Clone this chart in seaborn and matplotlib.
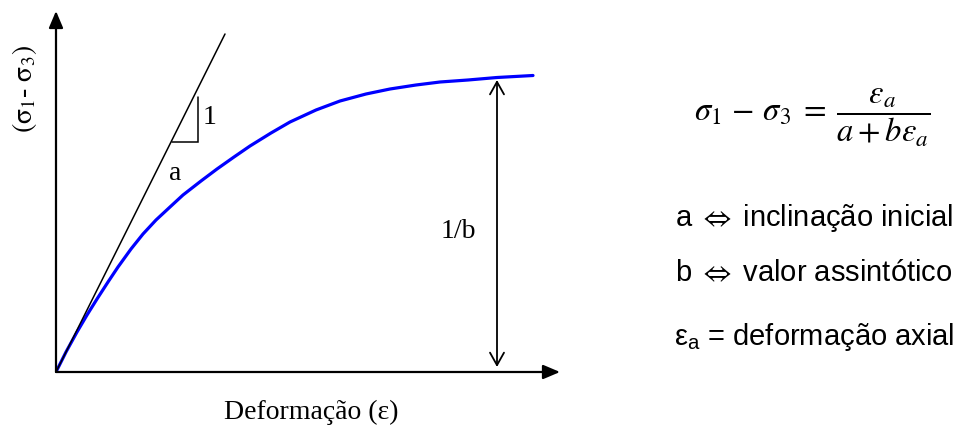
import matplotlib
matplotlib.use("Agg")
import matplotlib.pyplot as plt
import seaborn as sns
import pandas as pd

# Hyperbolic stress-strain curve (Kondner), arbitrary units
strain = [0, 0.10, 0.21, 0.31, 0.41, 0.52, 0.62, 0.75, 0.87, 1.00, 1.14, 1.27,
          1.45, 1.61, 1.78, 1.94, 2.15, 2.34, 2.60, 2.84, 3.10, 3.34, 3.60,
          3.84, 4.12, 4.41, 4.77]
deviator = [0, 0.20, 0.40, 0.57, 0.73, 0.90, 1.05, 1.23, 1.38, 1.52, 1.65,
            1.77, 1.91, 2.03, 2.15, 2.26, 2.39, 2.50, 2.62, 2.71, 2.78, 2.83,
            2.87, 2.90, 2.92, 2.945, 2.965]

# Initial tangent (slope 1/a)
tangent_x = [0, 1.69]
tangent_y = [0, 3.38]

# Slope triangle on the tangent
tri_x = [1.16, 1.42, 1.42]
tri_y = [2.30, 2.30, 2.75]

# Asymptote marker (1/b)
asym_x = 4.41
asym_y = [0.05, 2.92]

xmax, ymax = 5.04, 3.61

W, H = 954, 427

sns.set_theme(style="white")
plt.rcParams["font.family"] = ["Liberation Serif", "DejaVu Serif"]
plt.rcParams["mathtext.fontset"] = "stix"
plt.rcParams["text.color"] = "black"

fig = plt.figure(figsize=(W / 100, H / 100), dpi=100)
x0, y0 = 56, 373
ax = fig.add_axes([x0 / W, (H - y0) / H, (xmax * 100) / W, (ymax * 100) / H])
ax.set_xlim(0, xmax)
ax.set_ylim(0, ymax)
ax.axis("off")

curve = pd.DataFrame({"strain": strain, "deviator": deviator})
sns.lineplot(data=curve, x="strain", y="deviator", color="#0000ff", lw=2.3,
             ax=ax, sort=False, estimator=None)
sns.lineplot(x=tangent_x, y=tangent_y, color="black", lw=1.1, ax=ax,
             sort=False, estimator=None)
ax.plot(tri_x, tri_y, color="black", lw=1.1, solid_joinstyle="miter")

# Axes with arrowheads
axis_arrow = dict(arrowstyle="-|>,head_length=0.85,head_width=0.36", lw=1.6,
                  color="black", shrinkA=0, shrinkB=0)
ax.annotate("", xy=(0, ymax), xytext=(0, 0), arrowprops=axis_arrow,
            annotation_clip=False)
ax.annotate("", xy=(xmax, 0), xytext=(0, 0), arrowprops=axis_arrow,
            annotation_clip=False)

# Double arrow for 1/b
ax.annotate("", xy=(asym_x, asym_y[1]), xytext=(asym_x, asym_y[0]),
            arrowprops=dict(arrowstyle="<->,head_length=0.75,head_width=0.42",
                            lw=1.3, color="black", shrinkA=0, shrinkB=0),
            annotation_clip=False)


def px(x, y):
    return x / W, 1 - y / H


serif = 20
fig.text(*px(210, 118), "1", fontsize=serif, ha="center", va="center")
fig.text(*px(175, 174), "a", fontsize=serif, ha="center", va="center")
fig.text(*px(458, 231), "1/b", fontsize=serif, ha="center", va="center")
fig.text(*px(311, 419), "Deformação (ε)", fontsize=serif, ha="center",
         va="baseline")
fig.text(*px(25, 89), r"$(\mathrm{\sigma}_1$- $\mathrm{\sigma}_3)$",
         fontsize=serif, ha="center", va="center", rotation=90)

# Hyperbolic model equation
fig.text(*px(812, 118),
         r"$\sigma_1 \,-\, \sigma_3 \;=\; \dfrac{\varepsilon_a}{a + b\varepsilon_a}$",
         fontsize=23.5, ha="center", va="center", math_fontfamily="stix")

sans = ["Liberation Sans", "DejaVu Sans"]
plt.rcParams["mathtext.rm"] = "Liberation Sans"
plt.rcParams["mathtext.it"] = "Liberation Sans:italic"
fig.text(*px(814, 226), r"a $\Leftrightarrow$ inclinação inicial",
         fontsize=21, ha="center", va="baseline", family=sans,
         math_fontfamily="stix")
fig.text(*px(814, 281), r"b $\Leftrightarrow$ valor assintótico",
         fontsize=21, ha="center", va="baseline", family=sans,
         math_fontfamily="stix")
fig.text(*px(814, 345), r"$\mathrm{\varepsilon_a}$ = deformação axial",
         fontsize=21, ha="center", va="baseline", family=sans,
         math_fontfamily="custom")

fig.savefig("out.png", dpi=100)
